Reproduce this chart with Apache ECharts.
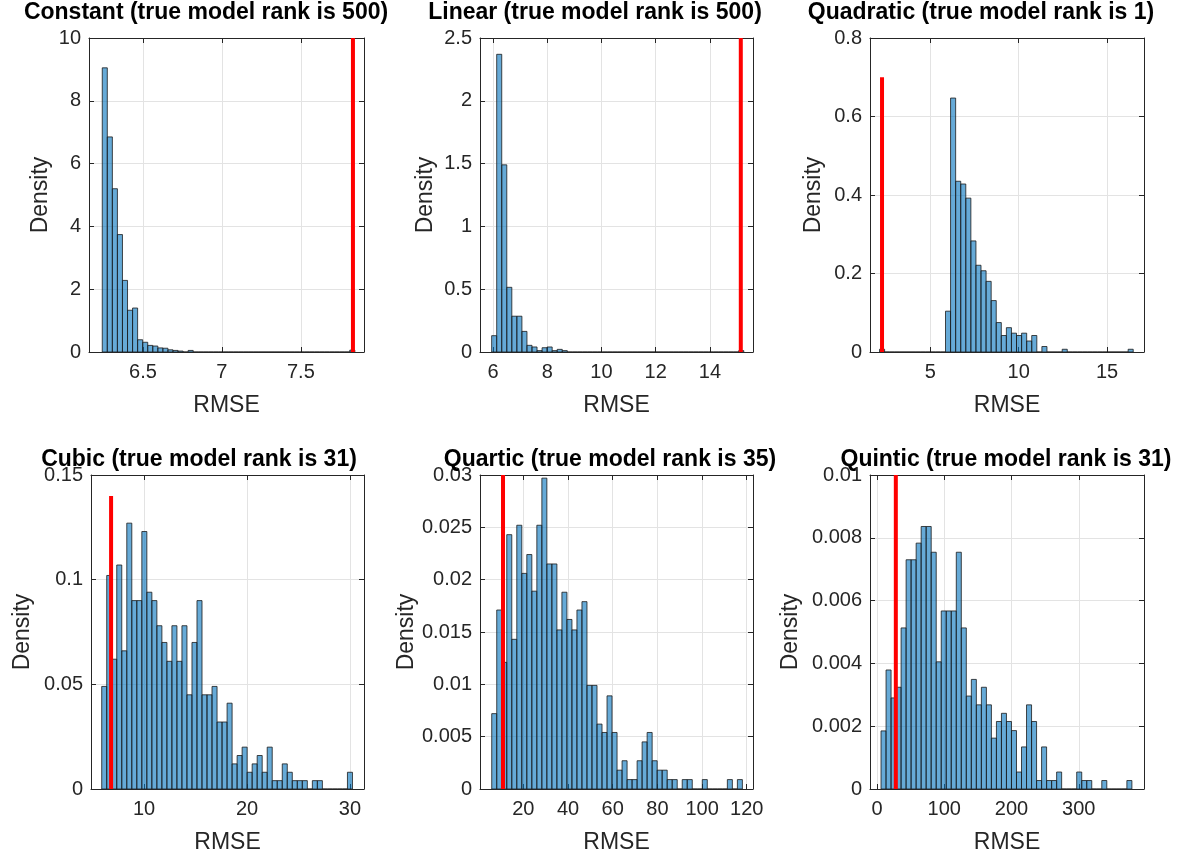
<!DOCTYPE html>
<html><head><meta charset="utf-8">
<script src="https://cdn.jsdelivr.net/npm/echarts@6/dist/echarts.min.js"></script>
<style>html,body{margin:0;padding:0;background:#fff}#c{width:1197px;height:857px}</style>
</head><body><div id="c"></div>
<script>
// ---------- DATA ----------
const panelTitles = [
  'Constant (true model rank is 500)',
  'Linear (true model rank is 500)',
  'Quadratic (true model rank is 1)',
  'Cubic (true model rank is 31)',
  'Quartic (true model rank is 35)',
  'Quintic (true model rank is 31)'
];
// histogram densities, 50 bins each
const constantDensity = [9.05,6.85,5.2,3.74,2.28,1.33,1.4,0.39,0.31,0.21,0.19,0.13,0.12,0.07,0.05,0.03,0,0.05,0,0,
  0,0,0,0,0,0,0,0,0,0,0,0,0,0,0,0,0,0,0,0,0,0,0,0,0,0,0,0,0,0.06];
const linearDensity = [0.13,2.37,1.49,0.515,0.285,0.285,0.164,0.053,0.04,0.011,0.034,0.04,0.011,0.021,0.011,0,0,0,0,0,
  0,0,0,0,0,0,0,0,0,0,0,0,0,0,0,0,0,0,0,0,0,0,0,0,0,0,0,0,0,0.011];
const quadraticDensity = [0.007,0,0,0,0,0,0,0,0,0,0,0,0,0.104,0.647,0.435,0.428,0.392,0.283,0.221,
  0.207,0.18,0.131,0.075,0.042,0.062,0.048,0.042,0.048,0.028,0.042,0,0.014,0,0,0,0.007,0,0,0,
  0,0,0,0,0,0,0,0,0,0.007];
const cubicDensity = [0.049,0.102,0.062,0.107,0.066,0.127,0.090,0.090,0.123,0.094,0.090,0.078,0.070,0.061,0.078,0.061,0.078,0.045,0.070,0.090,
  0.045,0.045,0.049,0.032,0.032,0.041,0.012,0.016,0.020,0.008,0.012,0.016,0.008,0.020,0.004,0.004,0.012,0.008,0.004,0.004,
  0.004,0,0.004,0.004,0,0,0,0,0,0.008];
const quarticDensity = [0.0072,0.0171,0.0121,0.0243,0.0143,0.0252,0.0206,0.0224,0.0189,0.0252,0.0297,0.0215,0.0215,0.0152,0.0188,0.0162,0.0152,0.0171,0.0179,0.0099,
  0.0099,0.0062,0.0054,0.0089,0.0054,0.0018,0.0027,0.0009,0.0009,0.0027,0.0045,0.0054,0.0027,0.0018,0.0018,0.0009,0.0009,0,0.0009,0.0009,
  0,0,0.0009,0,0,0,0,0.0009,0,0.0009];
const quinticDensity = [0.00185,0.00379,0.0029,0.00324,0.00513,0.0073,0.0073,0.00783,0.00836,0.00836,0.00754,0.00405,0.00567,0.00567,0.00567,0.00754,0.00513,0.00296,0.00349,0.00268,
  0.00324,0.00268,0.00162,0.00215,0.00241,0.00215,0.00186,0.00054,0.00134,0.00268,0.00215,0.00027,0.00134,0.00027,0.00027,0.00054,0,0,0,0.00054,
  0.00027,0.00027,0,0,0.00027,0,0,0,0,0.00027];
const densities = [constantDensity, linearDensity, quadraticDensity, cubicDensity, quarticDensity, quinticDensity];
const binStarts = [6.242, 5.95, 2.13, 5.89, 5.85, 6.0];
const binWidths = [0.032, 0.186, 0.287, 0.487, 2.244, 7.46];
const trueModelRMSE = [7.83, 15.14, 2.27, 6.8, 10.9, 28];
const trueLineTop = [10, 2.5, 0.7, 0.14, 0.03, 0.01];
const xTicks = [[6.5,7,7.5],[6,8,10,12,14],[5,10,15],[10,20,30],[20,40,60,80,100,120],[0,100,200,300]];
const xLimits = [[6.158,7.9],[5.52,15.59],[1.59,17.09],[4.85,31.36],[0.6,122.8],[-10.4,397]];
const yMax = [10,2.5,0.8,0.15,0.03,0.01];
const yStep = [2,0.5,0.2,0.05,0.005,0.002];

// ---------- LAYOUT ----------
const gridBoxes = [
  {left:89, top:38, width:275, height:314},
  {left:480, top:38, width:273, height:314},
  {left:870, top:38, width:274, height:314},
  {left:91, top:475, width:273, height:314},
  {left:480, top:475, width:273, height:314},
  {left:870, top:475, width:274, height:314}
];
const titleCenters = [[206,1],[595,1],[981,1],[199,448],[610,448],[1006,448]];
const yNameGaps = [37,43,45,57,57,68];
const FONT = "'Liberation Sans', Arial, Helvetica, sans-serif";
const AX = '#262626';
const GRIDC = '#e3e3e3';

const option = {
  animation:false,
  backgroundColor:'#fff',
  title:[], grid:[], xAxis:[], yAxis:[], series:[]
};

for (let i=0;i<6;i++){
  option.title.push({
    text: panelTitles[i], left: titleCenters[i][0], top: titleCenters[i][1], textAlign:'center', padding:0,
    textStyle:{fontFamily:FONT, fontWeight:'bold', fontSize:23, color:'#000'}
  });
  option.grid.push(Object.assign({containLabel:false}, gridBoxes[i]));
  const xmin = xLimits[i][0], xmax = xLimits[i][1];
  option.xAxis.push({
    type:'value', gridIndex:i, min:xmin, max:xmax, position:'bottom',
    name:'RMSE', nameLocation:'middle', nameGap:42,
    nameTextStyle:{fontFamily:FONT, fontSize:23, color:AX},
    axisLine:{show:true, onZero:false, lineStyle:{color:AX, width:1}},
    axisTick:{show:true, inside:true, length:5, customValues:xTicks[i], lineStyle:{color:AX}},
    axisLabel:{show:true, customValues:xTicks[i], margin:10, fontFamily:FONT, fontSize:20, color:AX},
    splitLine:{show:true, lineStyle:{color:GRIDC, width:1}}
  });
  option.xAxis.push({
    type:'value', gridIndex:i, min:xmin, max:xmax, position:'top',
    axisLine:{show:true, onZero:false, lineStyle:{color:AX, width:1}},
    axisTick:{show:true, inside:true, length:5, customValues:xTicks[i], lineStyle:{color:AX}},
    axisLabel:{show:false}, splitLine:{show:false}
  });
  option.yAxis.push({
    type:'value', gridIndex:i, min:0, max:yMax[i], interval:yStep[i], position:'left',
    name:'Density', nameLocation:'middle', nameGap:yNameGaps[i], nameRotate:90,
    nameTextStyle:{fontFamily:FONT, fontSize:23, color:AX},
    axisLine:{show:true, onZero:false, lineStyle:{color:AX, width:1}},
    axisTick:{show:true, inside:true, length:5, lineStyle:{color:AX}},
    axisLabel:{show:true, margin:8, fontFamily:FONT, fontSize:20, color:AX},
    splitLine:{show:true, lineStyle:{color:GRIDC, width:1}}
  });
  option.yAxis.push({
    type:'value', gridIndex:i, min:0, max:yMax[i], interval:yStep[i], position:'right',
    axisLine:{show:true, onZero:false, lineStyle:{color:AX, width:1}},
    axisTick:{show:true, inside:true, length:5, lineStyle:{color:AX}},
    axisLabel:{show:false}, splitLine:{show:false}
  });
  const bars = densities[i].map((d,k)=>[binStarts[i]+k*binWidths[i], binStarts[i]+(k+1)*binWidths[i], d]);
  option.series.push({
    type:'custom', xAxisIndex:2*i, yAxisIndex:2*i, z:2, clip:true,
    data: bars,
    encode:{x:[0,1], y:2},
    renderItem:function(params, api){
      const p0 = api.coord([api.value(0), api.value(2)]);
      const p1 = api.coord([api.value(1), 0]);
      return {type:'rect', shape:{x:p0[0], y:p0[1], width:p1[0]-p0[0], height:p1[1]-p0[1]},
        style:{fill:'rgba(0,114,189,0.6)', stroke:'#1a1a1a', lineWidth:0.8}};
    }
  });
  option.series.push({
    type:'line', xAxisIndex:2*i, yAxisIndex:2*i, z:5, symbol:'none', silent:true,
    data:[[trueModelRMSE[i],0],[trueModelRMSE[i],trueLineTop[i]]],
    lineStyle:{color:'#ff0000', width:4}
  });
}
const chart = echarts.init(document.getElementById('c'), null, {renderer:'canvas'});
chart.setOption(option);
</script></body></html>
